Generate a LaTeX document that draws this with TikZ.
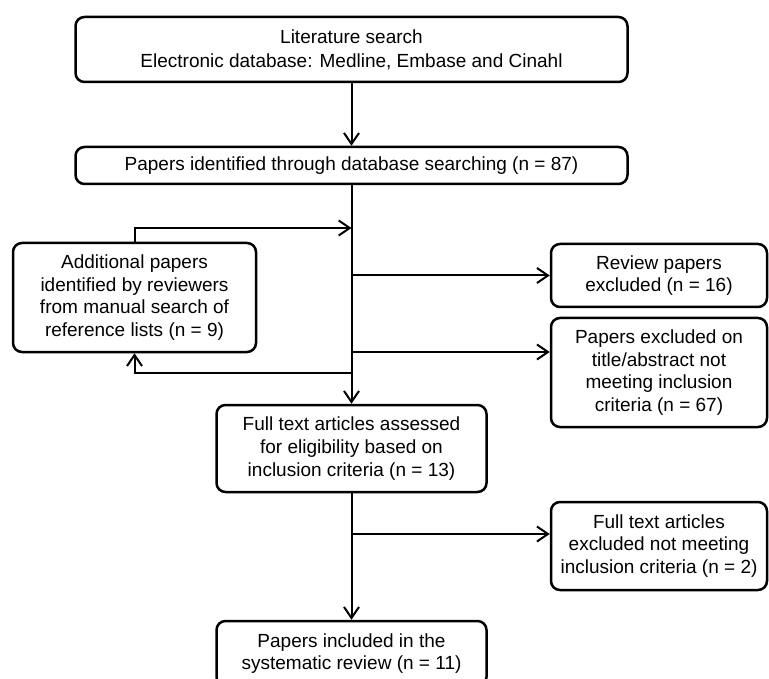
\documentclass[tikz,border=0pt]{standalone}
\usepackage{fontspec}
\setmainfont{Liberation Sans}
\usetikzlibrary{arrows.meta}
\begin{document}
\begin{tikzpicture}[x=1pt,y=-1pt,
  box/.style={draw, line width=2.5pt, rounded corners=9pt, align=center, inner sep=0pt,
    font=\fontsize{19}{22.8}\selectfont},
  conn/.style={line width=2pt, -{Straight Barb[length=11pt,width=15pt,line width=2pt]}}]
\useasboundingbox (0,0) rectangle (769,679);
\node[box, minimum width=552pt, minimum height=65pt] (top) at (351.5,49.5)
  {Literature search\\[1.5pt]Electronic database: Medline, Embase and Cinahl};
\node[box, minimum width=552pt, minimum height=37pt] (ident) at (351.5,165.5)
  {Papers identified through database searching (n = 87)};
\node[box, minimum width=243pt, minimum height=109pt] (add) at (134.5,297.5)
  {Additional papers\\identified by reviewers\\from manual search of\\reference lists (n = 9)};
\node[box, minimum width=216pt, minimum height=63pt] (rev) at (659,275.5)
  {Review papers\\excluded (n = 16)};
\node[box, minimum width=216pt, minimum height=109pt] (excl) at (659,372.5)
  {Papers excluded on\\title/abstract not\\meeting inclusion\\criteria (n = 67)};
\node[box, minimum width=270pt, minimum height=87pt] (full) at (351.5,448.5)
  {Full text articles assessed\\for eligibility based on\\inclusion criteria (n = 13)};
\node[box, minimum width=216pt, minimum height=88pt] (ftex) at (659,546)
  {Full text articles\\excluded not meeting\\inclusion criteria (n = 2)};
\node[box, minimum width=270pt, minimum height=65pt] (incl) at (351.5,653.5)
  {Papers included in the\\systematic review (n = 11)};
\coordinate (ja) at (351.5,228);
\coordinate (jb) at (351.5,352);
\coordinate (jc) at (351.5,373);
\coordinate (jd) at (351.5,534);
\draw[conn] (top) -- (ident);
\draw[conn] (ident) -- (full);
\draw[conn] (add.north) |- (ja);
\draw[conn] (ident.south |- rev.west) -- (rev.west);
\draw[conn] (jb) -- (jb -| excl.west);
\draw[conn] (jc) -| (add.south);
\draw[conn] (jd) -- (jd -| ftex.west);
\draw[conn] (full) -- (incl);
\end{tikzpicture}
\end{document}
